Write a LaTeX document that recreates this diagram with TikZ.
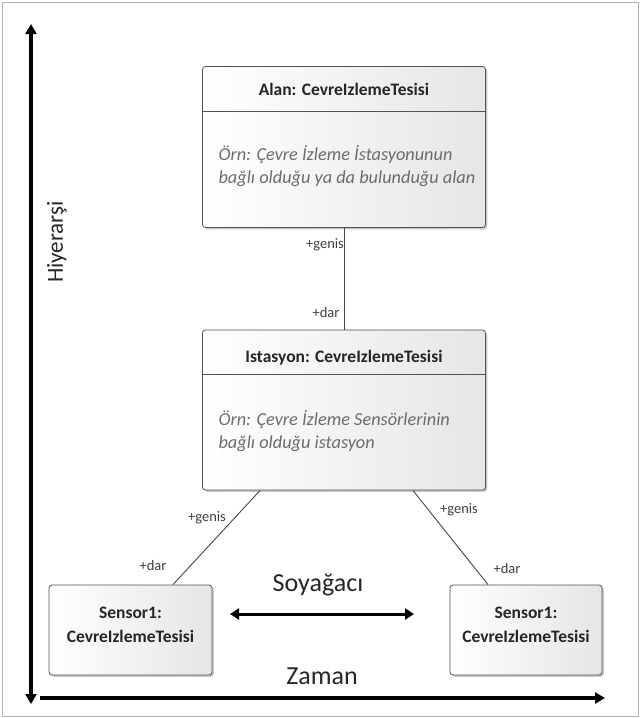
\documentclass[tikz,border=0pt]{standalone}
\usepackage{fontspec}
\setmainfont{Carlito}
\usetikzlibrary{arrows.meta,shadows,calc}

\begin{document}
\begin{tikzpicture}[x=1pt, y=-1pt,
    cls/.style={draw=gray!65!black, rounded corners=3pt, line width=0.8pt, left color=white, right color=gray!20,
        drop shadow={shadow xshift=1.8pt, shadow yshift=-1.8pt, fill=gray!55, opacity=0.8}},
    title/.style={font=\bfseries\fontsize{17.5}{24}\selectfont, text=black!85, align=center},
    note/.style={font=\itshape\fontsize{18.3}{23}\selectfont, text=gray!85!black, align=left, anchor=west},
    role/.style={font=\fontsize{14.5}{16}\selectfont, text=black!75},
    axis/.style={line width=3.4pt, {Triangle[length=10pt,width=11pt]}-{Triangle[length=10pt,width=11pt]}},
    link/.style={draw=gray!55!black, line width=0.9pt},
    big/.style={font=\fontsize{26}{30}\selectfont, text=black!85}
]
\useasboundingbox (0,0) rectangle (640,718);
\draw[gray!60, line width=1pt] (2,2) rectangle (638,716);

% axes
\coordinate (top) at (31,24);
\coordinate (bot) at (31,704);
\coordinate (t0) at (40,698);
\coordinate (t1) at (605,698);
\draw[axis] (top) -- (bot);
\draw[line width=3.4pt, -{Triangle[length=10pt,width=11pt]}] (t0) -- (t1);
\node[big, font=\fontsize{23}{26}\selectfont, rotate=90] (hier) at (57,242) {Hiyerarşi};
\node[big] (zaman) at (322,676) {Zaman};

% classes
\node[cls, minimum width=283pt, minimum height=161pt] (alan) at (344,147) {};
\node[title] (alant) at (344,89) {Alan: CevreIzlemeTesisi};
\draw[gray!65!black, line width=0.8pt] ($(alan.north west)+(0,45)$) -- ($(alan.north east)+(0,45)$);
\node[note] (alann) at (215,166) {Örn: Çevre İzleme İstasyonunun\\bağlı olduğu ya da bulunduğu alan};

\node[cls, minimum width=283pt, minimum height=160pt] (ist) at (344,410) {};
\node[title] (istt) at (344,358) {Istasyon: CevreIzlemeTesisi};
\draw[gray!65!black, line width=0.8pt] ($(ist.north west)+(0,45)$) -- ($(ist.north east)+(0,45)$);
\node[note] (istn) at (215,431) {Örn: Çevre İzleme Sensörlerinin\\bağlı olduğu istasyon};

\node[cls, minimum width=163pt, minimum height=90pt] (s1) at (130.5,630) {};
\node[title] (s1t) at (130.5,625) {Sensor1:\\CevreIzlemeTesisi};
\node[cls, minimum width=152pt, minimum height=90pt] (s2) at (526,630) {};
\node[title] (s2t) at (526,625) {Sensor1:\\CevreIzlemeTesisi};

% links
\draw[link] (alan.south) -- (ist.north);
\draw[link] ($(ist.south west)+(58,0)$) -- ($(s1.north)+(42.5,0)$);
\draw[link] ($(ist.south east)+(-73,0)$) -- ($(s2.north)+(-38,0)$);
\node[role] (g1) at (325,245) {+genis};
\node[role] (d1) at (326,313) {+dar};
\node[role] (g2) at (207,518) {+genis};
\node[role] (d2) at (153,566) {+dar};
\node[role] (g3) at (459,510) {+genis};
\node[role] (d3) at (507,569) {+dar};

% lineage
\node[big] (soy) at (318,585) {Soyağacı};
\coordinate (l0) at (230,614);
\coordinate (l1) at (414,614);
\draw[line width=3pt, {Triangle[length=9pt,width=11pt]}-{Triangle[length=9pt,width=11pt]}] (l0) -- (l1);
\end{tikzpicture}
\end{document}
